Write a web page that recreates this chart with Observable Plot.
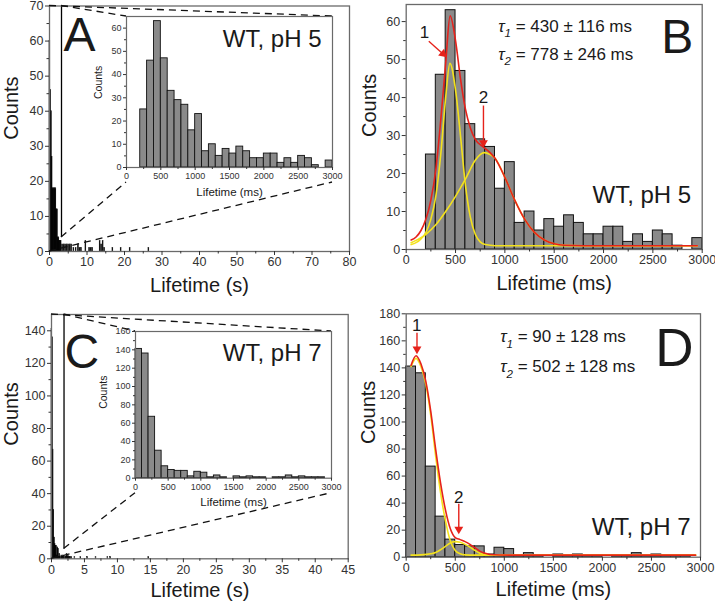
<!DOCTYPE html>
<html><head><meta charset="utf-8">
<script src="https://cdn.jsdelivr.net/npm/d3@7"></script>
<script src="https://cdn.jsdelivr.net/npm/@observablehq/plot@0.6"></script>
<style>
html,body{margin:0;padding:0;background:#fff;}
#fig{position:relative;width:715px;height:606px;overflow:hidden;background:#fff;}
</style></head><body><div id="fig"></div>
<script>
// ---------------- DATA ----------------
// pH 5 histogram (100 ms bins)
const pH5_binStartMs = [200,300,400,500,600,700,800,900,1000,1100,1200,1300,1400,1500,1600,1700,1800,1900,2000,2100,2200,2300,2400,2500,2600,2700,2800,2900];
const pH5_counts     = [25,46,63,47,33,29,27,16,23,7,10,5,8,6,9,7,4,4,6,6,2,4,2,5,4,1,0,3];
// pH 7 histogram (100 ms bins)
const pH7_binStartMs = [0,100,200,300,400,500,600,700,800,900,1000,1100,1200,1300,1400,1500,1600,1700,1800,1900,2000,2100,2200,2300,2400,2500,2600,2700,2800,2900];
const pH7_counts     = [141,136,67,30,13,9,8,8,2,7,6,1,3,1,0,2,1,2,1,1,0,1,1,3,1,2,1,1,1,0];
const binWidthMs = 100;

// Panel A full-range histogram (seconds, 0.2 s bins)
const mainA_start_s = [0,0.2,0.4,0.6,0.8,1.0,1.2,1.4,1.6,1.8,2.0,2.2,2.4,2.6,2.8,3.0,3.4,3.8,4.2,4.6,5.0,5.4,5.8,6.4,7.0,7.6,8.0,8.4,9.6,10.6,11.0,11.4,13.4,13.8,14.2,14.6,16.8,19.0,21.4,26.4];
const mainA_counts  = [60,46,40,27,18,18,18,18,18,12,12,4,4,3,3,3,2,2,2,2,2,2,2,1,1,2,1,1,3,1,1,1,3,2,3,1,1,1,1,1];
const mainA_binWidth_s = 0.2;
// Panel C full-range histogram tail beyond 3 s (0.1 s bins)
const mainC_tail_s      = [3.0,3.5,4.4,5.4,6.7,8.5,8.9,14.7];
const mainC_tail_counts = [1,1,1,1,1,1,1,1];

// Fit curves (ms, counts)
const redB_ms      = [50,100,150,200,250,300,350,400,445,500,550,600,650,700,780,850,900,1000,1100,1200,1300,1400,1500,1600,1800,2950];
const redB_counts  = [2.5,3.3,5,8,13,21,34,49,61.5,55,45,37,32,29,27,25.5,24,19,13,8,4.5,2.5,1.5,1.1,1,1];
const yel1B_ms     = [50,100,150,200,250,300,350,400,443,500,550,600,650,700,750,800,900,2950];
const yel1B_counts = [1.3,1.8,2.8,4.5,8,14,25,40,49,42,30,17,8.5,4,2,1.3,1,1];
const yel2B_ms     = [50,100,150,200,300,400,500,600,700,790,850,900,1000,1100,1200,1300,1400,1500,1600,1800,2950];
const yel2B_counts = [1.8,2.4,3.1,4,6.5,10,14,18.5,23.5,25.5,25,24,19,13,8,4.5,2.5,1.5,1.1,1,1];
// Fit curves
const redD_ms      = [50,100,150,200,250,300,350,400,450,500,550,600,650,700,750,800,850,950,1100,2950];
const redD_counts  = [142,149,143,130,108,80,55,35,21,14.5,13,11.5,9.5,7,4.5,3,2,1.6,1.5,1.5];
const yel1D_ms     = [50,100,150,200,250,300,350,400,450,500,550,600,700,2950];
const yel1D_counts = [141,147,141,128,105,75,48,27,12,5,2.5,1.7,1.5,1.5];
const yel2D_ms     = [50,150,250,300,350,400,450,500,550,600,650,700,750,800,900,2950];
const yel2D_counts = [1.5,1.7,2.5,3.5,5.5,8,10.5,11.5,11,9.5,7.5,5,3,2,1.5,1.5];

// Fit results
const tauB = ["τ1 = 430 ± 116 ms", "τ2 = 778 ± 246 ms"];
const tauD = ["τ1 = 90 ± 128 ms", "τ2 = 502 ± 128 ms"];
// Peak markers (label position, arrow from -> to)
const peaksB = [{label:"1", lx:185, ly:57, x1:229, y1:54.8, x2:408, y2:50.7},
                {label:"2", lx:783, ly:40, x1:783, y1:37.9, x2:783, y2:26.9}];
const peaksD = [{label:"1", lx:108, ly:171, x1:110, y1:166, x2:110, y2:150.5},
                {label:"2", lx:536, ly:44, x1:536, y1:39.5, x2:536, y2:17.3}];
// Zoom box edges in the overview panels (s, counts)
const zoomA = {x: 3.2, y1: 4, y2: 70};
const zoomC = {x: 1.9, y1: 6, y2: 150};

// Tick values
const ticksA_x = [0,10,20,30,40,50,60,70,80], minorA_x = [5,15,25,35,45,55,65,75];
const ticksA_y = [0,10,20,30,40,50,60,70],    minorA_y = [5,15,25,35,45,55,65];
const ticksC_x = [0,5,10,15,20,25,30,35,40,45], minorC_x = [2.5,7.5,12.5,17.5,22.5,27.5,32.5,37.5,42.5];
const ticksC_y = [0,20,40,60,80,100,120,140],   minorC_y = [10,30,50,70,90,110,130];
const ticksMs  = [0,500,1000,1500,2000,2500,3000], minorMs = [250,750,1250,1750,2250,2750];
const ticksIA_y = [0,10,20,30,40,50,60], minorIA_y = [5,15,25,35,45,55];
const ticksIC_y = [0,20,40,60,80,100,120,140,160], minorIC_y = [10,30,50,70,90,110,130,150];
const ticksB_y = [0,10,20,30,40,50,60], minorB_y = [5,15,25,35,45,55];
const ticksD_y = [0,20,40,60,80,100,120,140,160,180], minorD_y = [10,30,50,70,90,110,130,150,170];

// ---------------- STYLE ----------------
const fig = document.getElementById("fig");
const FONT = '"Liberation Sans", Arial, Helvetica, sans-serif';
const FRAME = "#6a6a6a";
const BAR = "#8a8a8a";
const RED = "#e6221b";
const YELLOW = "#f4e21c";
const idx = a => a.map((_, i) => i);

function place(svg, left, top) {
  svg.style.position = "absolute";
  svg.style.left = left + "px";
  svg.style.top = top + "px";
  svg.style.background = "transparent";
  svg.style.overflow = "visible";
  fig.appendChild(svg);
  return svg;
}
function axisMarks(xT, xM, yT, yM, fs, major, minor) {
  const c = {label: null, color: "#333", fontSize: fs, fontFamily: FONT};
  return [
    Plot.axisX(xT, {...c, tickSize: major, tickPadding: 2, tickFormat: d => String(d)}),
    Plot.axisX(xM, {...c, tickSize: minor, tickFormat: () => ""}),
    Plot.axisY(yT, {...c, tickSize: major, tickPadding: 2, tickFormat: d => String(d)}),
    Plot.axisY(yM, {...c, tickSize: minor, tickFormat: () => ""})
  ];
}
function txt(s, o) { return Plot.text([s], {text: d => d, fontFamily: FONT, fill: "#1a1a1a", ...o}); }
function bars(starts, counts, width, scale, o) {
  return Plot.rect(idx(counts), {x1: i => starts[i] * scale, x2: i => (starts[i] + width) * scale, y1: 0, y2: i => counts[i], ...o});
}
function curve(xs, ys, color) {
  return Plot.line(idx(xs), {x: i => xs[i], y: i => ys[i], stroke: color, strokeWidth: 1.6, curve: "monotone-x"});
}
// Red peak arrows: shaft + filled triangular head; kx/ky = pixels per data unit
function peakArrows(peaks, kx, ky) {
  const geo = peaks.map(p => {
    const sx = (p.x2 - p.x1) * kx, sy = -(p.y2 - p.y1) * ky;
    const L = Math.hypot(sx, sy), ux = sx / L, uy = sy / L;
    return {
      ...p,
      hx: p.x2 - ux * 4.6 / kx, hy: p.y2 + uy * 4.6 / ky,
      ex: p.x2 - ux * 6 / kx, ey: p.y2 + uy * 6 / ky,
      rot: Math.atan2(ux, -uy) * 180 / Math.PI
    };
  });
  return [
    Plot.link(geo, {x1: "x1", y1: "y1", x2: "ex", y2: "ey", stroke: RED, strokeWidth: 1.4}),
    Plot.dot(geo, {x: "hx", y: "hy", symbol: "triangle", r: 3.3, fill: RED, stroke: "none", rotate: "rot"}),
    Plot.text(geo, {x: "lx", y: "ly", text: "label", fontSize: 17, fontFamily: FONT, fill: "#1a1a1a"})
  ];
}
function richTau(svg, fs) {
  const ns = "http://www.w3.org/2000/svg";
  svg.querySelectorAll("text").forEach(t => {
    const m = t.textContent.match(/^τ(\d)(.*)$/);
    if (!m || t.children.length) return;
    t.textContent = "";
    const a = document.createElementNS(ns, "tspan"); a.setAttribute("font-style", "italic"); a.textContent = "τ";
    const b = document.createElementNS(ns, "tspan"); b.setAttribute("font-style", "italic"); b.setAttribute("font-size", fs * 0.68); b.setAttribute("dy", fs * 0.32); b.textContent = m[1];
    const c = document.createElementNS(ns, "tspan"); c.setAttribute("dy", -fs * 0.32); c.textContent = m[2];
    t.append(a, b, c);
  });
}
const baseStyle = {fontFamily: FONT, background: "transparent", overflow: "visible"};

// ---------------- PANEL A (overview) ----------------
const A = Plot.plot({
  width: 360, height: 300, marginLeft: 49, marginRight: 11, marginTop: 5.5, marginBottom: 49,
  x: {domain: [0, 80]}, y: {domain: [0, 70]}, style: baseStyle,
  marks: [
    bars(mainA_start_s, mainA_counts, mainA_binWidth_s, 1, {fill: "#000", stroke: "#000", strokeWidth: 0.6}),
    Plot.ruleX([zoomA], {x: d => d.x, y1: d => d.y1, y2: d => d.y2, stroke: "#000", strokeWidth: 1.3}),
    Plot.frame({stroke: FRAME, strokeWidth: 1.3}),
    ...axisMarks(ticksA_x, minorA_x, ticksA_y, minorA_y, 12.5, 4, 2.5),
    txt("A", {frameAnchor: "top-left", dx: 14, dy: 11, fontSize: 48}),
    txt("Counts", {frameAnchor: "left", rotate: -90, dx: -38, dy: 11, fontSize: 20}),
    txt("Lifetime (s)", {frameAnchor: "bottom", lineAnchor: "top", dy: 26, fontSize: 20})
  ]
});
place(A, 0, 0);

// ---------------- INSET A ----------------
const IA = Plot.plot({
  width: 250, height: 210, marginLeft: 36, marginRight: 8, marginTop: 16, marginBottom: 43,
  x: {domain: [0, 3000]}, y: {domain: [0, 65]}, style: baseStyle,
  marks: [
    bars(pH5_binStartMs, pH5_counts, binWidthMs, 1, {fill: BAR, stroke: "#111", strokeWidth: 0.9}),
    Plot.frame({stroke: FRAME, strokeWidth: 1.2}),
    ...axisMarks(ticksMs, minorMs, ticksIA_y, minorIA_y, 9, 3, 2),
    txt("WT, pH 5", {frameAnchor: "top-right", dx: -11, dy: 13, fontSize: 24}),
    txt("Counts", {frameAnchor: "left", rotate: -90, dx: -28, dy: 7, fontSize: 10.5}),
    txt("Lifetime (ms)", {frameAnchor: "bottom", lineAnchor: "top", dy: 20, fontSize: 11.5})
  ]
});

// ---------------- PANEL B ----------------
const B = Plot.plot({
  width: 355, height: 300, marginLeft: 45.7, marginRight: 13.3, marginTop: 4, marginBottom: 51,
  x: {domain: [0, 3000]}, y: {domain: [0, 64.5]}, style: baseStyle,
  marks: [
    bars(pH5_binStartMs, pH5_counts, binWidthMs, 1, {fill: BAR, stroke: "#111", strokeWidth: 1}),
    curve(yel1B_ms, yel1B_counts, YELLOW),
    curve(yel2B_ms, yel2B_counts, YELLOW),
    curve(redB_ms, redB_counts, RED),
    ...peakArrows(peaksB, 296 / 3000, 245 / 64.5),
    Plot.frame({stroke: FRAME, strokeWidth: 1.3}),
    ...axisMarks(ticksMs, minorMs, ticksB_y, minorB_y, 12.5, 4, 2.5),
    txt(tauB[0], {frameAnchor: "top-left", dx: 92, dy: 15, fontSize: 17}),
    txt(tauB[1], {frameAnchor: "top-left", dx: 92, dy: 43, fontSize: 17}),
    txt("B", {frameAnchor: "top-right", dx: -9, dy: 14, fontSize: 48}),
    txt("WT, pH 5", {frameAnchor: "top-right", dx: -11, dy: 181, fontSize: 24}),
    txt("Counts", {frameAnchor: "left", rotate: -90, dx: -37, dy: 10, fontSize: 20}),
    txt("Lifetime (ms)", {frameAnchor: "bottom", lineAnchor: "top", dy: 26, fontSize: 20})
  ]
});
richTau(B, 17);
place(B, 360, 0);

// ---------------- PANEL C (overview) ----------------
const C = Plot.plot({
  width: 360, height: 306, marginLeft: 51, marginRight: 12.3, marginTop: 14, marginBottom: 47.7,
  x: {domain: [0, 45]}, y: {domain: [0, 150]}, style: baseStyle,
  marks: [
    bars(pH7_binStartMs, pH7_counts, binWidthMs, 0.001, {fill: "#000", stroke: "#000", strokeWidth: 0.6}),
    bars(mainC_tail_s, mainC_tail_counts, 0.1, 1, {fill: "#000", stroke: "#000", strokeWidth: 0.6}),
    Plot.ruleX([zoomC], {x: d => d.x, y1: d => d.y1, y2: d => d.y2, stroke: "#000", strokeWidth: 1.3}),
    Plot.frame({stroke: FRAME, strokeWidth: 1.3}),
    ...axisMarks(ticksC_x, minorC_x, ticksC_y, minorC_y, 12.5, 4, 2.5),
    txt("C", {frameAnchor: "top-left", dx: 13, dy: 19, fontSize: 48}),
    txt("Counts", {frameAnchor: "left", rotate: -90, dx: -40, dy: 9, fontSize: 20}),
    txt("Lifetime (s)", {frameAnchor: "bottom", lineAnchor: "top", dy: 24, fontSize: 20})
  ]
});
place(C, 0, 300);

// ---------------- INSET C ----------------
const IC = Plot.plot({
  width: 250, height: 210, marginLeft: 45, marginRight: 9, marginTop: 21, marginBottom: 42.3,
  x: {domain: [0, 3000]}, y: {domain: [0, 160]}, style: baseStyle,
  marks: [
    bars(pH7_binStartMs, pH7_counts, binWidthMs, 1, {fill: BAR, stroke: "#111", strokeWidth: 0.9}),
    Plot.frame({stroke: FRAME, strokeWidth: 1.2}),
    ...axisMarks(ticksMs, minorMs, ticksIC_y, minorIC_y, 9, 3, 2),
    txt("WT, pH 7", {frameAnchor: "top-right", dx: -10, dy: 12, fontSize: 24}),
    txt("Counts", {frameAnchor: "left", rotate: -90, dx: -32, dy: 4, fontSize: 10.5}),
    txt("Lifetime (ms)", {frameAnchor: "bottom", lineAnchor: "top", dy: 20, fontSize: 11.5})
  ]
});

// ---------------- PANEL D ----------------
const D = Plot.plot({
  width: 355, height: 306, marginLeft: 45.7, marginRight: 15, marginTop: 13.3, marginBottom: 49.3,
  x: {domain: [0, 3000]}, y: {domain: [0, 180]}, style: baseStyle,
  marks: [
    bars(pH7_binStartMs, pH7_counts, binWidthMs, 1, {fill: BAR, stroke: "#111", strokeWidth: 1}),
    curve(yel1D_ms, yel1D_counts, YELLOW),
    curve(yel2D_ms, yel2D_counts, YELLOW),
    curve(redD_ms, redD_counts, RED),
    ...peakArrows(peaksD, 294.3 / 3000, 243.4 / 180),
    Plot.frame({stroke: FRAME, strokeWidth: 1.3}),
    ...axisMarks(ticksMs, minorMs, ticksD_y, minorD_y, 12.5, 4, 2.5),
    txt(tauD[0], {frameAnchor: "top-left", dx: 94, dy: 16.5, fontSize: 17}),
    txt(tauD[1], {frameAnchor: "top-left", dx: 94, dy: 46.5, fontSize: 17}),
    txt("D", {frameAnchor: "top-right", dx: -7, dy: 14.5, fontSize: 53}),
    txt("WT, pH 7", {frameAnchor: "top-right", dx: -10, dy: 204, fontSize: 24}),
    txt("Counts", {frameAnchor: "left", rotate: -90, dx: -38, dy: 8.5, fontSize: 20}),
    txt("Lifetime (ms)", {frameAnchor: "bottom", lineAnchor: "top", dy: 25, fontSize: 20})
  ]
});
richTau(D, 17);
place(D, 360, 300);

// ---------------- ZOOM CONNECTORS ----------------
const overlay = d3.create("svg").attr("width", 715).attr("height", 606)
  .style("position", "absolute").style("left", "0px").style("top", "0px").style("pointer-events", "none");
function connect(main, mL, mT, zoom, inset, iL, iT) {
  const sx = main.scale("x"), sy = main.scale("y");
  const ix = inset.scale("x"), iy = inset.scale("y");
  const X = v => sx.apply(v) + mL, Y = v => sy.apply(v) + mT;
  const xd = ix.domain, yd = iy.domain;
  const left = ix.apply(xd[0]) + iL, right = ix.apply(xd[1]) + iL;
  const top = iy.apply(yd[1]) + iT, bottom = iy.apply(yd[0]) + iT + 15;
  const segs = [
    [X(0), Y(zoom.y2), right, top],
    [X(zoom.x), Y(zoom.y2), left, top],
    [X(zoom.x), Y(zoom.y1), left, bottom],
    [X(0), Y(0), right, bottom]
  ];
  overlay.selectAll(null).data(segs).join("line")
    .attr("x1", d => d[0]).attr("y1", d => d[1]).attr("x2", d => d[2]).attr("y2", d => d[3])
    .attr("stroke", "#111").attr("stroke-width", 1.3).attr("stroke-dasharray", "7,5");
}
connect(A, 0, 0, zoomA, IA, 90, 0);
connect(C, 0, 300, zoomC, IC, 90, 310);
fig.appendChild(overlay.node());
place(IA, 90, 0);
place(IC, 90, 310);
</script></body></html>
